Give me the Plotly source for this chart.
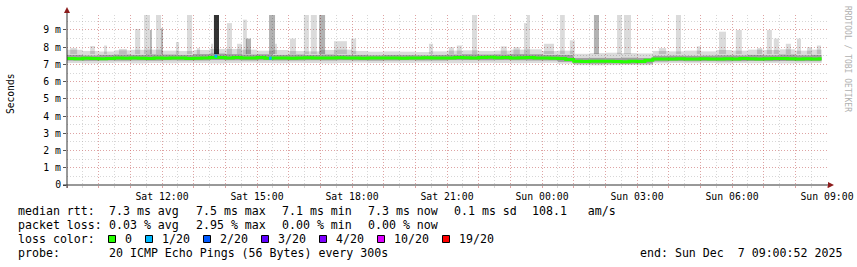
import plotly.graph_objects as go
from datetime import datetime, timedelta

# ---------------- data ----------------
START = datetime(2025, 12, 6, 9, 0, 0)
END = datetime(2025, 12, 7, 9, 0, 0)
DATA_END_H = 23.83          # last sample (hours after START)

# median rtt in ms, one value per 15 minutes from Sat 09:00
median_ms = [
    7.35, 7.33, 7.36, 7.34, 7.33, 7.35, 7.37, 7.36,
    7.38, 7.36, 7.35, 7.37, 7.36, 7.38, 7.37, 7.35,
    7.36, 7.38, 7.40, 7.40, 7.38, 7.40, 7.37, 7.38,
    7.40, 7.36, 7.38, 7.37, 7.36, 7.38, 7.39, 7.37,
    7.38, 7.37, 7.39, 7.38, 7.37, 7.36, 7.38, 7.37,
    7.38, 7.37, 7.36, 7.38, 7.37, 7.39, 7.38, 7.37,
    7.38, 7.40, 7.39, 7.38, 7.40, 7.41, 7.39, 7.40,
    7.38, 7.39, 7.40, 7.38, 7.37, 7.36, 7.35, 7.28,
    7.18, 7.17, 7.18, 7.19, 7.18, 7.17, 7.16, 7.18,
    7.17, 7.25, 7.31, 7.32, 7.32, 7.33, 7.31, 7.32,
    7.33, 7.32, 7.31, 7.33, 7.32, 7.34, 7.33, 7.32,
    7.33, 7.35, 7.34, 7.33, 7.32, 7.33, 7.32, 7.33,
]

# smoke envelope, one value per 30 minutes
band_lo_ms = [
    7.08, 7.06, 7.08, 7.10, 7.06, 7.08, 7.07, 7.09, 7.08, 7.06,
    7.08, 7.10, 7.08, 7.07, 7.09, 7.08, 7.06, 7.08, 7.10, 7.08,
    7.09, 7.08, 7.10, 7.08, 7.07, 7.08, 7.09, 7.08, 7.07, 7.08,
    7.09, 7.04, 6.96, 6.95, 6.96, 6.97, 6.96, 7.06, 7.08, 7.07,
    7.08, 7.06, 7.08, 7.07, 7.08, 7.06, 7.07, 7.08,
]
band_hi_ms = [
    7.85, 7.78, 7.75, 7.82, 7.85, 7.86, 7.80, 7.78, 7.84, 7.90,
    7.90, 7.86, 7.80, 7.84, 7.78, 7.76, 7.84, 7.86, 7.78, 7.74,
    7.76, 7.74, 7.72, 7.76, 7.80, 7.82, 7.78, 7.80, 7.86, 7.88,
    7.78, 7.80, 7.62, 7.66, 7.68, 7.66, 7.64, 7.78, 7.76, 7.80,
    7.76, 7.84, 7.80, 7.86, 7.84, 7.88, 7.80, 7.86,
]
core_lo_ms = [
    7.22, 7.21, 7.23, 7.22, 7.23, 7.22, 7.24, 7.23, 7.23, 7.25,
    7.24, 7.23, 7.24, 7.23, 7.23, 7.24, 7.23, 7.24, 7.23, 7.22,
    7.23, 7.24, 7.23, 7.23, 7.25, 7.25, 7.24, 7.25, 7.24, 7.23,
    7.23, 7.15, 7.05, 7.04, 7.05, 7.04, 7.05, 7.17, 7.19, 7.18,
    7.19, 7.18, 7.19, 7.20, 7.19, 7.20, 7.19, 7.19,
]
core_hi_ms = [
    7.55, 7.52, 7.55, 7.57, 7.55, 7.58, 7.57, 7.55, 7.60, 7.63,
    7.60, 7.57, 7.59, 7.55, 7.57, 7.55, 7.57, 7.55, 7.55, 7.53,
    7.55, 7.54, 7.53, 7.55, 7.57, 7.59, 7.57, 7.58, 7.60, 7.59,
    7.55, 7.55, 7.37, 7.38, 7.37, 7.39, 7.37, 7.50, 7.51, 7.50,
    7.51, 7.53, 7.52, 7.55, 7.53, 7.57, 7.53, 7.55,
]

# tall smoke spikes (hours after START, top in ms)
spike_start_h = [0.10, 0.73, 1.17, 1.64, 2.15, 2.43, 2.62, 2.81, 2.97, 3.44,
                 3.79, 4.10, 4.55, 4.64, 5.05, 5.37, 5.56, 5.65, 6.38, 6.57,
                 7.04, 7.48, 7.70, 7.96, 8.43, 8.97, 11.43, 12.06, 12.31, 12.79,
                 13.70, 14.10, 14.43, 14.52, 15.06, 15.57, 15.88, 16.64, 17.37, 17.59,
                 18.69, 19.23, 19.89, 20.59, 21.12, 21.79, 22.10, 22.32, 22.70, 23.05,
                 23.37, 23.68]
spike_end_h = [0.32, 0.88, 1.26, 1.89, 2.31, 2.62, 2.68, 2.97, 3.03, 3.54,
               3.95, 4.20, 4.61, 4.80, 5.21, 5.53, 5.68, 5.81, 6.57, 6.63,
               7.23, 7.64, 7.89, 8.15, 8.84, 9.13, 11.56, 12.22, 12.47, 12.95,
               13.89, 14.30, 14.52, 14.62, 15.38, 15.72, 16.04, 16.80, 17.52, 17.81,
               18.92, 19.39, 20.02, 20.81, 21.31, 21.95, 22.26, 22.48, 22.86, 23.18,
               23.52, 23.81]
spike_top_ms = [7.95, 8.07, 8.10, 7.90, 9.06, 10.0, 9.0, 10.0, 9.1, 8.3,
                10.0, 7.95, 8.2, 10.0, 9.4, 8.2, 9.6, 8.5, 10.0, 8.2,
                8.5, 10.0, 10.0, 10.0, 8.35, 8.5, 8.2, 8.0, 8.1, 10.0,
                8.05, 8.0, 9.4, 10.0, 8.2, 10.0, 8.4, 10.0, 10.0, 10.0,
                7.95, 10.0, 8.05, 8.9, 9.0, 7.95, 9.0, 8.5, 8.2, 8.5,
                8.0, 8.1]
spike_tone = ["light", "light", "light", "light", "light", "light", "mid", "light", "mid", "light",
              "light", "light", "light", "dark", "light", "light", "light", "mid", "mid", "light",
              "light", "light", "light", "mid", "light", "light", "light", "light", "light", "light",
              "light", "light", "light", "light", "light", "light", "light", "mid", "light", "light",
              "light", "light", "light", "light", "light", "light", "light", "light", "light", "light",
              "light", "light"]
SPIKE_BASE_MS = 7.6

# intervals with packet loss
loss_start_h = [4.66, 6.38]
loss_value_ms = [7.48, 7.36]
loss_count = [1, 1]

# legend content
loss_labels = ["0", "1/20", "2/20", "3/20", "4/20", "10/20", "19/20"]
loss_colors = ["#26ff00", "#00b8ff", "#0059ff", "#5e00ff", "#7e00ff", "#dd00ff", "#ff0000"]
loss_levels = [0, 1, 2, 3, 4, 10, 19]
rtt_stats = ["7.3 ms avg", "7.5 ms max", "7.1 ms min", "7.3 ms now", "0.1 ms sd", "108.1   am/s"]
loss_stats = ["0.03 % avg", "2.95 % max", "0.00 % min", "0.00 % now"]
probe_text = "20 ICMP Echo Pings (56 Bytes) every 300s"
end_text = "end: Sun Dec  7 09:00:52 2025"

y_tick_vals = [0, 1, 2, 3, 4, 5, 6, 7, 8, 9]
y_tick_text = ["0"] + [f"{v} m" for v in y_tick_vals[1:]]

# ---------------- layout constants ----------------
W, H = 857, 267
PL, PR, PT, PB = 67, 827, 15, 185
MONO = "DejaVu Sans Mono"
TONE = {"light": "rgba(0,0,0,0.14)", "mid": "rgba(0,0,0,0.30)", "dark": "rgba(0,0,0,0.80)"}
LOSS_COLOR = dict(zip(loss_levels, loss_colors))


def t(h):
    return START + timedelta(hours=h)


def px(x):
    return (x - PL) / (PR - PL)


def py(y):
    return (PB - y) / (PB - PT)


fig = go.Figure()


def add_bars(starts, ends, lows, highs, colors):
    fig.add_trace(go.Bar(
        x=[t((s + e) / 2) for s, e in zip(starts, ends)],
        width=[(e - s) * 3600 * 1000 for s, e in zip(starts, ends)],
        base=lows,
        y=[hi - lo for lo, hi in zip(lows, highs)],
        marker=dict(color=colors, line=dict(width=0)),
        hoverinfo="skip", showlegend=False,
    ))


half_starts = [i * 0.5 for i in range(len(band_lo_ms))]
half_ends = [min(s + 0.5, DATA_END_H) for s in half_starts]
add_bars(half_starts, half_ends, band_lo_ms, band_hi_ms, TONE["light"])
add_bars(spike_start_h, spike_end_h, [SPIKE_BASE_MS] * len(spike_top_ms), spike_top_ms,
         [TONE[k] for k in spike_tone])
add_bars(half_starts, half_ends, core_lo_ms, core_hi_ms, "rgba(0,0,0,0.28)")

mx = [t(i * 0.25) for i in range(len(median_ms))] + [t(DATA_END_H)]
my = median_ms + [median_ms[-1]]
fig.add_trace(go.Scatter(x=mx, y=my, mode="lines",
                         line=dict(color=LOSS_COLOR[0], width=3, shape="hv"),
                         hoverinfo="skip", showlegend=False))
for s, v, c in zip(loss_start_h, loss_value_ms, loss_count):
    fig.add_trace(go.Scatter(x=[t(s), t(s + 1 / 12)], y=[v, v], mode="lines",
                             line=dict(color=LOSS_COLOR[c], width=3),
                             hoverinfo="skip", showlegend=False))

# x ticks: grid every hour, label every 3 hours
x_tick_vals = [t(h) for h in range(25)]
x_tick_text = [d.strftime("%a %H:%M") if (h % 3 == 0 and h > 0) else "" for h, d in enumerate(x_tick_vals)]

MAJOR = "rgba(230,90,90,0.42)"
MINOR = "rgba(160,160,160,0.42)"
DASH = "1px,2px"

fig.update_layout(
    width=W, height=H, template="none",
    paper_bgcolor="white", plot_bgcolor="white",
    margin=dict(l=PL, r=W - PR, t=PT, b=H - PB, pad=0),
    barmode="overlay", showlegend=False,
    xaxis=dict(type="date", range=[START, END], tickvals=x_tick_vals, ticktext=x_tick_text,
               showgrid=True, gridcolor=MAJOR, griddash=DASH, gridwidth=1,
               ticks="outside", ticklen=2, tickcolor=MAJOR, tickwidth=1,
               minor=dict(dtick=30 * 60 * 1000, tick0=START, showgrid=True, gridcolor=MINOR,
                          griddash=DASH, ticks="outside", ticklen=2, tickcolor=MINOR),
               tickfont=dict(family=MONO, size=9.8, color="#000"),
               zeroline=False, showline=False, automargin=False, fixedrange=True,
               ticklabelstandoff=0),
    yaxis=dict(range=[0, 9.87], tickvals=y_tick_vals, ticktext=y_tick_text,
               showgrid=True, gridcolor=MAJOR, griddash=DASH, gridwidth=1,
               ticks="outside", ticklen=3, tickcolor="#555", tickwidth=1,
               minor=dict(dtick=0.5, tick0=0, showgrid=True, gridcolor=MINOR, griddash=DASH),
               tickfont=dict(family=MONO, size=9.8, color="#000"),
               zeroline=False, showline=False, automargin=False, fixedrange=True),
)

# axes with arrows
AX = "#333333"
ARROW = "#8c1c1c"
shapes = [
    dict(type="line", xref="paper", yref="paper", x0=px(63), x1=px(829), y0=py(185), y1=py(185),
         line=dict(color=AX, width=1)),
    dict(type="line", xref="paper", yref="paper", x0=px(67), x1=px(67), y0=py(188), y1=py(12),
         line=dict(color=AX, width=1)),
    dict(type="path", xref="paper", yref="paper",
         path=f"M {px(828)} {py(182)} L {px(834)} {py(185)} L {px(828)} {py(188)} Z",
         fillcolor=ARROW, line=dict(width=0)),
    dict(type="path", xref="paper", yref="paper",
         path=f"M {px(64)} {py(13)} L {px(67)} {py(7)} L {px(70)} {py(13)} Z",
         fillcolor=ARROW, line=dict(width=0)),
]

annotations = []


def text(x, y, s, size=11.6, color="#000", anchor="left", angle=0, family=MONO):
    annotations.append(dict(xref="paper", yref="paper", x=px(x), y=py(y), text=s,
                            showarrow=False, xanchor=anchor, yanchor="middle",
                            textangle=angle, font=dict(family=family, size=size, color=color)))


# axis title and watermark
text(10, 94, "Seconds", size=9.6, anchor="center", angle=-90)
text(847, 59, "RRDTOOL / TOBI OETIKER", size=8, color="#b0b0b0", anchor="center", angle=90)

# legend lines
ROW = [211.5, 225.3, 239.3, 252.8]
text(16, ROW[0], "median rtt:")
for xpos, s in zip([107, 193.5, 279.5, 366, 452, 530], rtt_stats):
    text(xpos, ROW[0], s)
text(16, ROW[1], "packet loss:")
for xpos, s in zip([107, 193.5, 279.5, 366], loss_stats):
    text(xpos, ROW[1], s)
text(16, ROW[2], "loss color:")
cursor = 108.5
for lab, col in zip(loss_labels, loss_colors):
    shapes.append(dict(type="rect", xref="paper", yref="paper",
                       x0=px(cursor), x1=px(cursor + 7), y0=py(235.5), y1=py(242.5),
                       fillcolor=col, line=dict(color="#000", width=1)))
    text(cursor + 14.5, ROW[2], lab)
    cursor = cursor + 14.5 + 7 * len(lab) + 15.5
text(16, ROW[3], "probe:")
text(107, ROW[3], probe_text)
text(638, ROW[3], end_text)

fig.update_layout(shapes=shapes, annotations=annotations)
fig.write_html("out.html")
